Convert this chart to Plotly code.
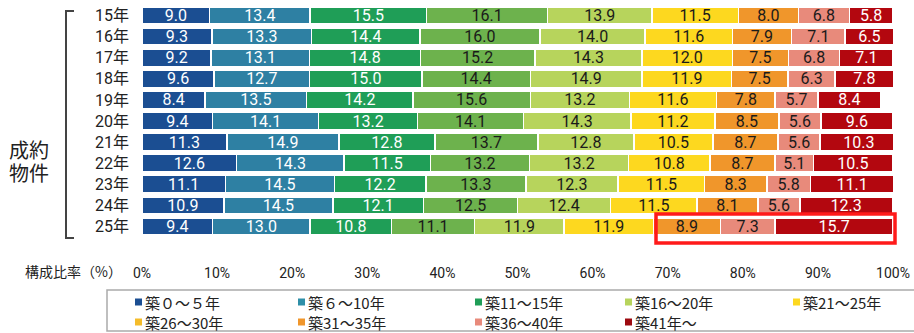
import plotly.graph_objects as go

years = ["15年", "16年", "17年", "18年", "19年", "20年", "21年", "22年", "23年", "24年", "25年"]
series_names = ["築０～５年", "築６～10年", "築11～15年", "築16～20年", "築21～25年",
                "築26～30年", "築31～35年", "築36～40年", "築41年～"]
s0_5 = [9.0, 9.3, 9.2, 9.6, 8.4, 9.4, 11.3, 12.6, 11.1, 10.9, 9.4]
s6_10 = [13.4, 13.3, 13.1, 12.7, 13.5, 14.1, 14.9, 14.3, 14.5, 14.5, 13.0]
s11_15 = [15.5, 14.4, 14.8, 15.0, 14.2, 13.2, 12.8, 11.5, 12.2, 12.1, 10.8]
s16_20 = [16.1, 16.0, 15.2, 14.4, 15.6, 14.1, 13.7, 13.2, 13.3, 12.5, 11.1]
s21_25 = [13.9, 14.0, 14.3, 14.9, 13.2, 14.3, 12.8, 13.2, 12.3, 12.4, 11.9]
s26_30 = [11.5, 11.6, 12.0, 11.9, 11.6, 11.2, 10.5, 10.8, 11.5, 11.5, 11.9]
s31_35 = [8.0, 7.9, 7.5, 7.5, 7.8, 8.5, 8.7, 8.7, 8.3, 8.1, 8.9]
s36_40 = [6.8, 7.1, 6.8, 6.3, 5.7, 5.6, 5.6, 5.1, 5.8, 5.6, 7.3]
s41 = [5.8, 6.5, 7.1, 7.8, 8.4, 9.6, 10.3, 10.5, 11.1, 12.3, 15.7]
series_values = [s0_5, s6_10, s11_15, s16_20, s21_25, s26_30, s31_35, s36_40, s41]
x_ticks = [0, 10, 20, 30, 40, 50, 60, 70, 80, 90, 100]
group_label_lines = ["成約", "物件"]

bar_colors = ["#1b4e92", "#2e80a3", "#1f9e57", "#6db24d", "#b7d45c",
              "#fdd81f", "#f0962b", "#e88a7b", "#b3070f"]
legend_colors = ["#1b4e92", "#2e8fa8", "#1f9e57", "#b7d45c", "#fdd81f",
                 "#f5bc2a", "#f0962b", "#e88a7b", "#9d0a10"]
text_colors = ["white", "white", "white", "#1a1a1a", "#1a1a1a",
               "#1a1a1a", "#1a1a1a", "#1a1a1a", "white"]

W, H = 914, 333
L, R, T, B = 142, 21, 5, 96
pw, ph = W - L - R, H - T - B

def px(x):
    return (x - L) / pw

def py(y):
    return (H - B - y) / ph

fig = go.Figure()
for name, vals, col, tcol in zip(series_names, series_values, bar_colors, text_colors):
    fig.add_trace(go.Bar(
        y=years, x=vals, name=name, orientation="h",
        marker=dict(color=col, line=dict(color="white", width=1.5)),
        text=[f"{v:.1f}" for v in vals], textposition="inside",
        insidetextanchor="middle", textangle=0, constraintext="none",
        textfont=dict(color=tcol, size=16, family="Roboto, sans-serif"),
        showlegend=False, hoverinfo="skip",
    ))

shapes = []
annotations = []

# bracket on the left
shapes.append(dict(type="path", xref="paper", yref="paper",
                   path=f"M {px(74)},{py(11)} L {px(66)},{py(11)} L {px(66)},{py(238)} L {px(74)},{py(238)}",
                   line=dict(color="#444444", width=2)))
for line_text, yc in zip(group_label_lines, [151, 174]):
    annotations.append(dict(xref="paper", yref="paper", x=px(29), y=py(yc), text=line_text,
                            showarrow=False, font=dict(size=20, color="#222", family="Roboto, Noto Sans CJK JP"),
                            xanchor="center", yanchor="middle"))
annotations.append(dict(xref="paper", yref="paper", x=px(124), y=py(271), text="構成比率（%）",
                        showarrow=False, font=dict(size=14, color="#222", family="Noto Sans CJK JP"),
                        xanchor="right", yanchor="middle"))

# highlight box around latest year's old-building shares
shapes.append(dict(type="rect", xref="paper", yref="paper",
                   x0=px(656), x1=px(895), y0=py(243), y1=py(214),
                   line=dict(color="#ff1a1a", width=3.5)))

# legend box
shapes.append(dict(type="rect", xref="paper", yref="paper",
                   x0=px(107), x1=px(925), y0=py(331), y1=py(290),
                   line=dict(color="#aaaaaa", width=1.5)))
col_x = [135, 298, 475, 625, 793]
row_y = [302, 322]
for i, (name, col) in enumerate(zip(series_names, legend_colors)):
    r, c = divmod(i, 5)
    x0, yc = col_x[c], row_y[r]
    shapes.append(dict(type="rect", xref="paper", yref="paper",
                       x0=px(x0), x1=px(x0 + 7), y0=py(yc + 3.5), y1=py(yc - 3.5),
                       fillcolor=col, line=dict(width=0)))
    annotations.append(dict(xref="paper", yref="paper", x=px(x0 + 8), y=py(yc), text=name,
                            showarrow=False, xanchor="left", yanchor="middle",
                            font=dict(size=15, color="#222", family="Noto Sans CJK JP")))

fig.update_layout(
    barmode="stack", bargap=0.19,
    width=W, height=H, margin=dict(l=L, r=R, t=T, b=B, autoexpand=False),
    paper_bgcolor="white", plot_bgcolor="white",
    xaxis=dict(range=[0, 100], tickvals=x_ticks, ticktext=[f"{t}%" for t in x_ticks],
               showgrid=False, zeroline=False, showline=False, ticks="",
               ticklabelstandoff=26,
               tickfont=dict(size=14, color="#222", family="Liberation Sans Narrow, Roboto, sans-serif")),
    yaxis=dict(autorange="reversed", showgrid=False, showline=False, ticks="",
               ticklabelstandoff=12,
               tickfont=dict(size=16, color="#222", family="Roboto, Noto Sans CJK JP")),
    shapes=shapes, annotations=annotations,
    font=dict(family="Noto Sans CJK JP"),
)

fig.write_html("out.html")
